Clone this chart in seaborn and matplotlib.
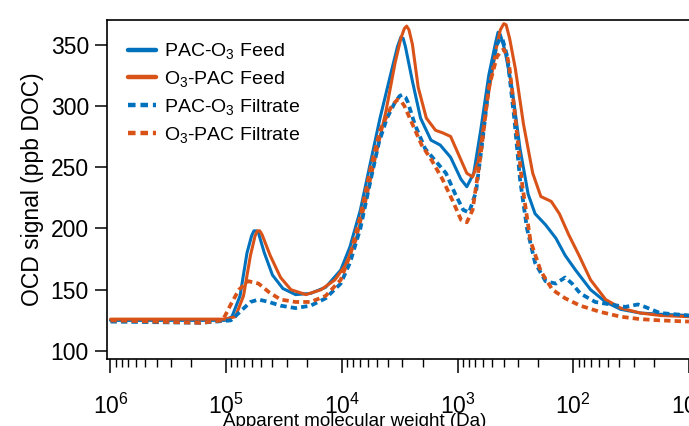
import numpy as np
import pandas as pd
import seaborn as sns
import matplotlib.pyplot as plt
from matplotlib.ticker import LogLocator, FixedLocator

# log10 of apparent molecular weight (Da)
logmw_pac_feed = [6.0, 5.22, 5.01, 4.95, 4.88, 4.82, 4.78, 4.76, 4.74, 4.72, 4.67, 4.60, 4.51, 4.40, 4.27,
                  4.14, 4.01, 3.93, 3.84, 3.75, 3.67, 3.58, 3.52, 3.49, 3.47, 3.45, 3.39, 3.32, 3.23, 3.15,
                  3.06, 2.97, 2.92, 2.86, 2.80, 2.73, 2.67, 2.65, 2.63, 2.59, 2.53, 2.46, 2.39, 2.33, 2.24,
                  2.15, 2.07, 1.98, 1.85, 1.72, 1.59, 1.42, 1.25, 1.0]
ocd_pac_feed = [125, 125, 125, 128, 145, 180, 194, 198, 198, 196, 180, 162, 151, 146, 147,
                152, 166, 185, 215, 255, 290, 325, 348, 356, 355, 348, 320, 290, 272, 268,
                258, 240, 234, 245, 280, 325, 352, 360, 358, 345, 315, 265, 228, 212, 203,
                192, 178, 166, 150, 140, 134, 131, 130, 129]

logmw_o3_feed = [6.0, 5.01, 4.92, 4.85, 4.79, 4.75, 4.73, 4.71, 4.69, 4.62, 4.53, 4.44, 4.31, 4.18, 4.06,
                 3.97, 3.88, 3.80, 3.71, 3.62, 3.54, 3.49, 3.46, 3.44, 3.42, 3.39, 3.34, 3.27, 3.19, 3.13,
                 3.06, 2.99, 2.92, 2.87, 2.82, 2.75, 2.67, 2.63, 2.60, 2.58, 2.55, 2.50, 2.43, 2.35, 2.28,
                 2.19, 2.12, 2.04, 1.95, 1.85, 1.72, 1.59, 1.42, 1.25, 1.0]
ocd_o3_feed = [126, 126, 128, 145, 178, 194, 198, 198, 195, 178, 160, 150, 146, 150, 158,
               170, 190, 220, 258, 295, 335, 355, 363, 365, 362, 350, 315, 290, 280, 278,
               275, 260, 245, 242, 255, 300, 345, 362, 367, 366, 355, 330, 285, 245, 226,
               222, 212, 195, 178, 158, 142, 135, 131, 129, 128]

logmw_pac_filt = [6.0, 5.22, 4.96, 4.88, 4.79, 4.72, 4.63, 4.53, 4.40, 4.27, 4.14, 4.01, 3.93, 3.84, 3.75,
                  3.68, 3.61, 3.54, 3.50, 3.48, 3.45, 3.43, 3.37, 3.28, 3.19, 3.10, 3.02, 2.95, 2.90, 2.84,
                  2.78, 2.72, 2.66, 2.63, 2.61, 2.57, 2.51, 2.46, 2.40, 2.33, 2.24, 2.15, 2.07, 2.01, 1.94,
                  1.81, 1.68, 1.55, 1.44, 1.38, 1.25, 1.0]
ocd_pac_filt = [124, 123, 125, 132, 140, 142, 140, 137, 135, 137, 143, 155, 172, 200, 240,
                270, 290, 303, 308, 309, 307, 303, 285, 265, 255, 245, 228, 215, 213, 230,
                275, 325, 350, 355, 354, 340, 290, 240, 200, 172, 157, 155, 160, 155, 147,
                140, 138, 136, 138, 136, 131, 129]

logmw_o3_filt = [6.0, 5.22, 5.03, 4.96, 4.89, 4.81, 4.72, 4.63, 4.53, 4.40, 4.27, 4.14, 4.01, 3.93, 3.84,
                 3.75, 3.67, 3.58, 3.54, 3.52, 3.49, 3.46, 3.39, 3.31, 3.22, 3.13, 3.04, 2.97, 2.92, 2.87,
                 2.80, 2.73, 2.66, 2.62, 2.60, 2.57, 2.55, 2.50, 2.44, 2.37, 2.28, 2.18, 2.07, 1.94, 1.77,
                 1.59, 1.42, 1.25, 1.0]
ocd_o3_filt = [125, 123, 125, 138, 150, 157, 155, 148, 142, 140, 140, 145, 158, 178, 210,
               250, 280, 298, 303, 305, 304, 300, 285, 268, 255, 240, 222, 207, 205, 215,
               260, 315, 340, 345, 346, 340, 330, 290, 235, 190, 165, 150, 143, 137, 132,
               128, 126, 125, 124]

labels = ['PAC-O$_3$ Feed', 'O$_3$-PAC Feed', 'PAC-O$_3$ Filtrate', 'O$_3$-PAC Filtrate']
blue = '#0072BD'
orange = '#D95319'

sns.set_style('ticks')
plt.rcParams['font.family'] = ['Liberation Sans', 'DejaVu Sans']
plt.rcParams['mathtext.fontset'] = 'custom'
plt.rcParams['mathtext.rm'] = 'Liberation Sans'
plt.rcParams['mathtext.it'] = 'Liberation Sans:italic'
plt.rcParams['mathtext.bf'] = 'Liberation Sans:bold'
for k in ['text.color', 'axes.labelcolor', 'xtick.color', 'ytick.color', 'axes.edgecolor']:
    plt.rcParams[k] = 'black'

fig = plt.figure(figsize=(6.89, 4.26), dpi=100)
ax = fig.add_axes([0.1553, 0.1573, 0.8614, 0.7958])

series = [
    (logmw_pac_feed, ocd_pac_feed, blue, '-', 2.2),
    (logmw_o3_feed, ocd_o3_feed, orange, '-', 2.2),
    (logmw_pac_filt, ocd_pac_filt, blue, (0, (1.7, 1.1)), 2.7),
    (logmw_o3_filt, ocd_o3_filt, orange, (0, (1.7, 1.1)), 2.7),
]
for (lx, y, c, ls, lw), lab in zip(series, labels):
    df = pd.DataFrame({'mw': 10 ** np.array(lx), 'ocd': y})
    sns.lineplot(data=df, x='mw', y='ocd', color=c, linestyle=ls, linewidth=lw,
                 label=lab, ax=ax, sort=False)

ax.set_xscale('log')
ax.set_xlim(10 ** 6.03, 10 ** 0.9)
ax.set_ylim(93.5, 370)
ax.yaxis.set_major_locator(FixedLocator([100, 150, 200, 250, 300, 350]))
ax.xaxis.set_major_locator(LogLocator(base=10))
ax.xaxis.set_minor_locator(LogLocator(base=10, subs=np.arange(2, 10)))
ax.xaxis.set_minor_formatter(plt.NullFormatter())

ax.tick_params(axis='x', which='major', direction='out', length=10, width=1.1, pad=15, labelsize=16.5)
ax.tick_params(axis='x', which='minor', direction='out', length=6, width=1.0)
ax.tick_params(axis='y', which='major', direction='out', length=9, width=1.1, pad=4, labelsize=16.5)
for s in ax.spines.values():
    s.set_linewidth(1.2)

ax.set_ylabel('OCD signal (ppb DOC)', fontsize=16.5, labelpad=5)
ax.set_xlabel('Apparent molecular weight (Da)', fontsize=13.5)
ax.xaxis.set_label_coords(0.4175, -0.16)

leg = ax.legend(loc='upper left', frameon=False, fontsize=14, handlelength=1.4,
                handletextpad=0.45, labelspacing=0.4, borderaxespad=0.7)
for h in leg.get_lines():
    h.set_linewidth(3.2)

fig.savefig('out.png', dpi=100)
